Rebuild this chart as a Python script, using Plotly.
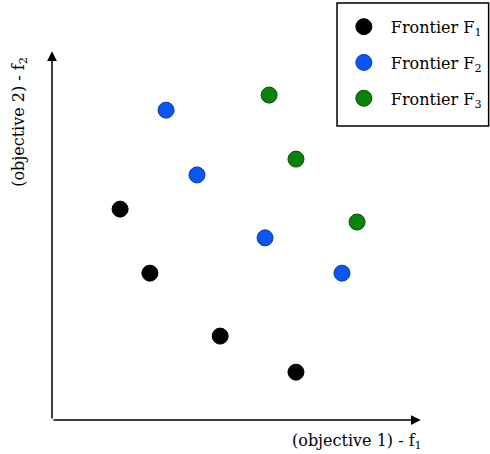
import plotly.graph_objects as go

# Pareto frontiers in objective space (f1, f2)
f1_x = [1.85, 2.66, 4.57, 6.63]
f1_y = [5.73, 3.99, 2.28, 1.30]

f2_x = [3.10, 3.94, 5.79, 7.88]
f2_y = [8.42, 6.66, 4.95, 3.99]

f3_x = [5.90, 6.63, 8.29]
f3_y = [8.83, 7.09, 5.38]

names = ["Frontier F<sub>1</sub>", "Frontier F<sub>2</sub>", "Frontier F<sub>3</sub>"]
fills = ["#000000", "#0a55f5", "#0a820a"]
edges = ["#000000", "#0a3aa0", "#045004"]

FONT = "DejaVu Serif"

fig = go.Figure()
for i, (xs, ys, name, fc, ec) in enumerate(zip([f1_x, f2_x, f3_x], [f1_y, f2_y, f3_y],
                                               names, fills, edges)):
    fig.add_trace(go.Scatter(
        x=xs, y=ys, mode="markers", name=name, legendgroup=f"g{i}",
        marker=dict(size=16, color=fc, line=dict(color=ec, width=1)),
    ))

# Axes drawn as arrows from the origin
arrow = dict(xref="x", yref="y", axref="x", ayref="y", text="", showarrow=True,
             arrowhead=2, arrowsize=1.3, arrowwidth=1.5, arrowcolor="black")
fig.add_annotation(x=10.02, y=0, ax=0, ay=0, **arrow)
fig.add_annotation(x=0, y=10.02, ax=0, ay=0, **arrow)

# Axis titles
fig.add_annotation(text="(objective 1) - f<sub>1</sub>", x=1.01, y=-0.025,
                   xref="paper", yref="paper", xanchor="right", yanchor="top",
                   showarrow=False, font=dict(family=FONT, size=16, color="black"))
fig.add_annotation(text="(objective 2) - f<sub>2</sub>", x=-0.055, y=0.993,
                   xref="paper", yref="paper", xanchor="right", yanchor="top",
                   textangle=-90, showarrow=False,
                   font=dict(family=FONT, size=16, color="black"))

fig.update_xaxes(range=[0, 10], visible=False)
fig.update_yaxes(range=[0, 10], visible=False)

# Frame around the legend
fig.add_shape(type="rect", xref="paper", yref="paper",
              x0=0.7745, x1=1.1865, y0=0.799, y1=1.133,
              line=dict(color="black", width=1.5), fillcolor="white", layer="above")

fig.update_layout(
    width=490, height=454,
    margin=dict(l=52, r=70, t=52, b=34, autoexpand=False),
    plot_bgcolor="white", paper_bgcolor="white",
    font=dict(family=FONT, size=16, color="black"),
    showlegend=True,
    legend=dict(x=0.774, y=1.136, xanchor="left", yanchor="top",
                borderwidth=0, bgcolor="rgba(0,0,0,0)",
                font=dict(family=FONT, size=16), itemsizing="trace",
                tracegroupgap=12, itemwidth=44,
                title=dict(text=" ", font=dict(size=6))),
)

fig.write_html("out.html")
